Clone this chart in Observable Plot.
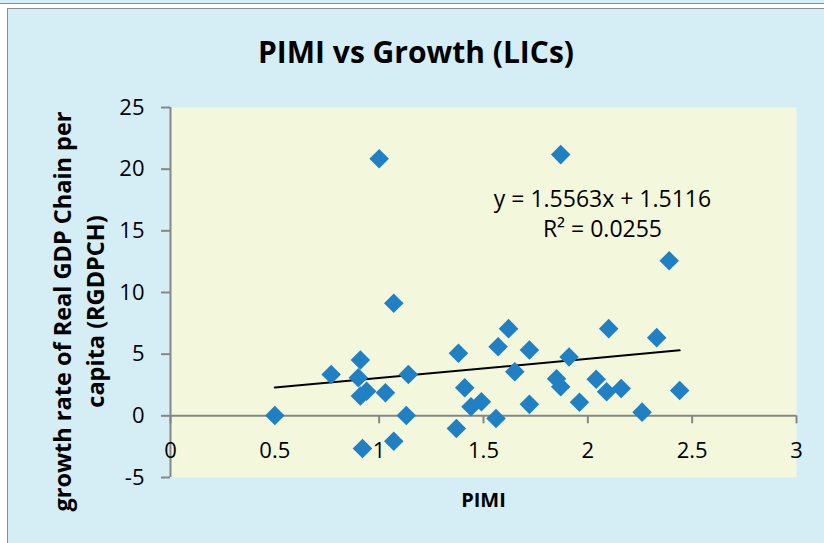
<!DOCTYPE html>
<html>
<head>
<meta charset="utf-8">
<script src="https://cdn.jsdelivr.net/npm/d3@7"></script>
<script src="https://cdn.jsdelivr.net/npm/@observablehq/plot@0.6"></script>
<style>
  html, body { margin: 0; padding: 0; background: #ffffff; }
  body { width: 824px; height: 543px; position: relative; overflow: hidden; font-family: "Open Sans", sans-serif; }
  #topstrip { position: absolute; left: 0; top: 0; width: 824px; height: 3px; background: #D5EEF5; border-bottom: 1px solid #8c8c8c; }
  #frame { position: absolute; left: 7px; top: 8px; width: 830px; height: 545px; border: 1px solid #8c8c8c; background: #D5EEF5; }
  #title { position: absolute; left: 8px; width: 816px; top: 37px; text-align: center; font-weight: 700; font-size: 30px; line-height: 1; color: #000; }
  #chart { position: absolute; left: 0; top: 90px; }
</style>
</head>
<body>
<div id="topstrip"></div>
<div id="frame"></div>
<div id="title">PIMI vs Growth (LICs)</div>
<div id="chart"></div>
<script>
// ---- data ----
const pimi = [0.50, 0.77, 0.91, 0.90, 0.94, 0.91, 1.03, 1.14, 1.13, 1.07, 0.92, 1.00, 1.07,
              1.62, 1.38, 1.57, 1.72, 1.65, 1.41, 1.44, 1.49, 1.56, 1.37, 1.72,
              2.10, 2.33, 1.91, 1.85, 1.87, 2.04, 2.09, 2.16, 1.96, 2.26, 2.44, 2.39, 1.87];
const growth = [0.03, 3.36, 4.52, 3.09, 2.00, 1.60, 1.87, 3.36, 0.03, -2.06, -2.65, 20.85, 9.13,
                7.07, 5.07, 5.60, 5.34, 3.58, 2.28, 0.73, 1.14, -0.21, -1.02, 0.93,
                7.07, 6.34, 4.77, 3.00, 2.36, 2.96, 1.95, 2.22, 1.11, 0.30, 2.06, 12.57, 21.18];
const xTicks = [0, 0.5, 1, 1.5, 2, 2.5, 3];
const yTicks = [-5, 0, 5, 10, 15, 20, 25];
const slope = 1.5563;
const intercept = 1.5116;
const eqText = "y = 1.5563x + 1.5116\nR\u00B2 = 0.0255";
const eqPos = {x: 2.07, y: 16.5};
const xTitle = "PIMI";
const yTitle1 = "growth rate of Real GDP Chain per";
const yTitle2 = "capita (RGDPCH)";

// ---- build ----
const points = pimi.map((x, i) => ({x, y: growth[i]}));
const [xmin, xmax] = d3.extent(pimi);
const trend = [xmin, xmax].map(x => ({x, y: intercept + slope * x}));

const W = 824, H = 453;
const mL = 170, mR = 28, mT = 17, plotH = 370, mB = H - mT - plotH;
const yDom = [-5, 25];
const zeroOffset = (0 - yDom[0]) / (yDom[1] - yDom[0]) * plotH;
const gray = "#868686";
const fmt = d => String(d);

const chart = Plot.plot({
  width: W, height: H,
  marginLeft: mL, marginRight: mR, marginTop: mT, marginBottom: mB,
  style: {background: "transparent", fontFamily: "'Open Sans', sans-serif", color: "#000"},
  x: {domain: [0, 3]},
  y: {domain: yDom},
  marks: [
    Plot.frame({fill: "#F3F8DD", stroke: null}),
    Plot.ruleY([0], {stroke: gray, strokeWidth: 2}),
    Plot.ruleX([0], {stroke: gray, strokeWidth: 2}),
    Plot.axisY({ticks: yTicks, tickSize: 9, tickPadding: 17, stroke: gray, strokeWidth: 2,
                fill: "#000", fontSize: 22, tickFormat: fmt, label: null}),
    Plot.axisX({anchor: "bottom", ticks: xTicks, tickSize: 8, tickPadding: 19, dy: -zeroOffset,
                stroke: gray, strokeWidth: 2, fill: "#000", fontSize: 22, tickFormat: fmt, label: null}),
    Plot.line(trend, {x: "x", y: "y", stroke: "#000", strokeWidth: 2}),
    Plot.dot(points, {x: "x", y: "y", symbol: "diamond2", r: 8.8, fill: "#2080C3", stroke: null}),
    Plot.text([eqPos], {x: "x", y: "y", text: () => eqText, fontSize: 23, lineHeight: 1.3, fill: "#000"}),
    Plot.text([xTitle], {frameAnchor: "bottom", text: d => d, dy: 23, lineAnchor: "middle", textAnchor: "middle",
                         fontSize: 20, fontWeight: 700, fill: "#000"}),
    Plot.text([yTitle1], {frameAnchor: "left", text: d => d, rotate: -90, dx: -107, dy: 19,
                          textAnchor: "middle", lineAnchor: "middle", fontSize: 23.5, fontWeight: 700, fill: "#000"}),
    Plot.text([yTitle2], {frameAnchor: "left", text: d => d, rotate: -90, dx: -74, dy: 19,
                          textAnchor: "middle", lineAnchor: "middle", fontSize: 23.5, fontWeight: 700, fill: "#000"})
  ]
});
document.getElementById("chart").appendChild(chart);
</script>
</body>
</html>
